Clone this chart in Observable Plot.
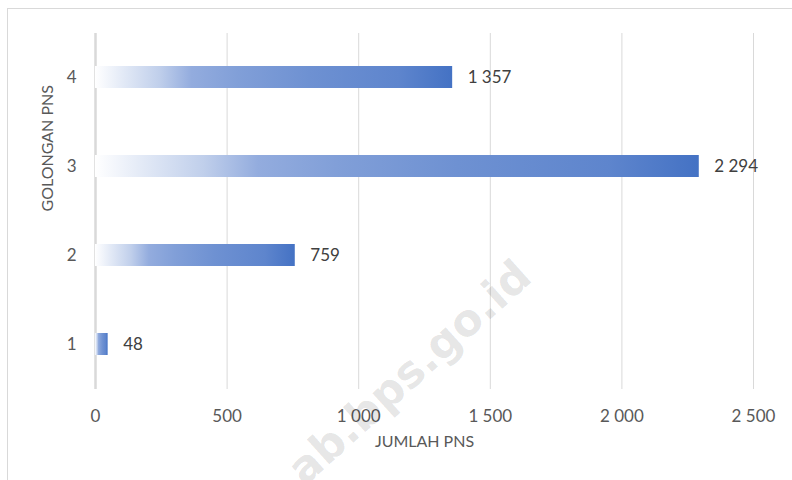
<!DOCTYPE html>
<html>
<head>
<meta charset="utf-8">
<script src="https://cdn.jsdelivr.net/npm/d3@7"></script>
<script src="https://cdn.jsdelivr.net/npm/@observablehq/plot@0.6"></script>
<style>
  html, body { margin: 0; padding: 0; background: #fff; width: 792px; height: 480px; overflow: hidden; }
  #frame { position: absolute; left: 7px; top: 8px; width: 900px; height: 600px; border: 1px solid #d9d9d9; box-sizing: border-box; }
  #chart { position: absolute; left: 0; top: 0; }
  #wm { position: absolute; left: 0; top: 0; pointer-events: none; }
</style>
</head>
<body>
<div id="frame"></div>
<div id="chart"></div>
<svg id="wm" width="792" height="480"></svg>
<script>
// Data
const golongan = ["1", "2", "3", "4"];
const jumlah = [48, 759, 2294, 1357];
const xTicks = [0, 500, 1000, 1500, 2000, 2500];
const yOrder = ["4", "3", "2", "1"];
const xTitle = "JUMLAH PNS";
const yTitle = "GOLONGAN PNS";
const watermark = "ab.bps.go.id";

const data = golongan.map((g, i) => ({cat: g, value: jumlah[i]}));
const locale = d3.formatLocale({decimal: ",", thousands: "\u00a0", grouping: [3], currency: ["", ""]});
const fmt = locale.format(",d");

const gradStops = [
  [0, "#ffffff"], [0.08, "#e2e9f6"], [0.18, "#c0cfeb"], [0.27, "#93acde"],
  [0.4, "#819fd8"], [0.6, "#6e91d2"], [0.85, "#5e85cd"], [1, "#4472c4"]
];

function defsMark() {
  const defs = d3.create("svg:defs");
  const lg = defs.append("linearGradient").attr("id", "barGrad")
    .attr("x1", 0).attr("x2", 1).attr("y1", 0).attr("y2", 0);
  gradStops.forEach(([o, c]) => lg.append("stop").attr("offset", o).attr("stop-color", c));
  return defs.node();
}

const chart = Plot.plot({
  width: 792,
  height: 480,
  marginLeft: 95,
  marginRight: 39,
  marginTop: 33,
  marginBottom: 91,
  style: {fontFamily: "Lato, 'Open Sans', sans-serif", fontSize: "17px", color: "#595959", background: "transparent"},
  x: {domain: [0, 2500], ticks: xTicks, tickFormat: fmt, tickSize: 0, tickPadding: 20, label: null},
  y: {domain: yOrder, paddingInner: 0.75, paddingOuter: 0.375, align: 0.5, tickSize: 0, tickPadding: 19, label: null},
  marks: [
    defsMark,
    Plot.ruleX(xTicks.filter(d => d > 0), {stroke: "#d9d9d9", strokeWidth: 1}),
    Plot.ruleX([0], {stroke: "#d9d9d9", strokeWidth: 2.5}),
    Plot.barX(data, {x: "value", y: "cat", fill: "url(#barGrad)"}),
    Plot.text(data, {x: "value", y: "cat", text: d => fmt(d.value), textAnchor: "start", dx: 15, fill: "#404040", fontSize: 17}),
    Plot.text([xTitle], {frameAnchor: "bottom", dy: 57, fill: "#595959", fontSize: 16}),
    Plot.text([yTitle], {frameAnchor: "left", dx: -48, rotate: -90, fill: "#595959", fontSize: 16})
  ]
});
document.getElementById("chart").appendChild(chart);

// watermark overlay (decorative)
d3.select("#wm").append("text")
  .attr("transform", "translate(534,280) rotate(-42)")
  .attr("text-anchor", "end")
  .attr("font-family", "DejaVu Sans")
  .attr("font-weight", "bold")
  .attr("font-size", 44)
  .attr("fill", "rgba(0,0,0,0.11)")
  .text(watermark);
</script>
</body>
</html>
